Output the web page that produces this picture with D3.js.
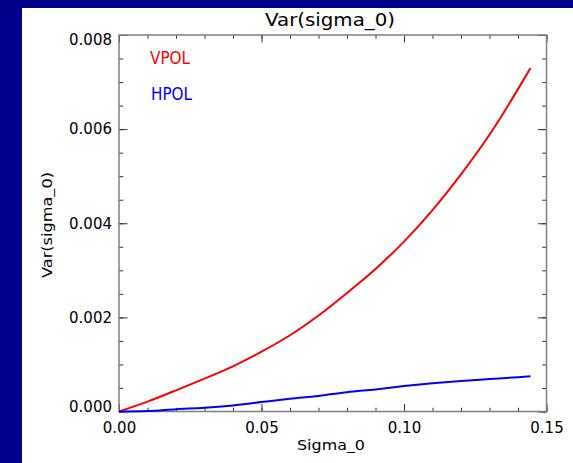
<!DOCTYPE html>
<html>
<head>
<meta charset="utf-8">
<script src="https://cdn.jsdelivr.net/npm/d3@7"></script>
<style>
  html, body { margin: 0; padding: 0; background: #00008b; }
  svg { display: block; }
  text { font-family: "DejaVu Sans", sans-serif; }
</style>
</head>
<body>
<svg id="chart" width="573" height="463"></svg>
<script>
// Sigma_0 sample points and variance of sigma_0 for each polarisation
const sigma0 = [0, 0.01, 0.02, 0.03, 0.04, 0.05, 0.06, 0.07, 0.08, 0.09, 0.10, 0.11, 0.12, 0.13, 0.14, 0.1444];
const vpol   = [0, 0.00021, 0.00045, 0.00070, 0.00096, 0.00127, 0.00162, 0.00204, 0.00252, 0.00303, 0.00361, 0.00428, 0.00504, 0.00588, 0.00685, 0.00730];
const hpol   = [0, 0.00001, 0.00005, 0.00008, 0.00013, 0.00020, 0.00027, 0.00033, 0.00041, 0.00047, 0.00054, 0.00060, 0.00065, 0.00069, 0.00073, 0.00075];

const seriesNames = ["VPOL", "HPOL"];
const seriesColors = ["#ff0000", "#0000ff"];

const xMajor = [0, 0.05, 0.10, 0.15];
const xMinor = d3.range(0, 0.1501, 0.01);
const yMajor = [0, 0.002, 0.004, 0.006, 0.008];
const yMinor = d3.range(0, 0.00801, 0.0005);

const svg = d3.select("#chart");
const W = 573, H = 463;

// navy page with a white panel
svg.append("rect").attr("width", W).attr("height", H).attr("fill", "#00008b");
svg.append("rect").attr("x", 22).attr("y", 8).attr("width", W - 22).attr("height", H - 8).attr("fill", "#ffffff");

const plotL = 119, plotR = 546.5, plotT = 35, plotB = 411.5;
const x = d3.scaleLinear().domain([0, 0.15]).range([plotL, plotR]);
const y = d3.scaleLinear().domain([0, 0.008]).range([plotB, plotT]);

const tickColor = "#333333";
const xLen = 7.5, yLen = 8.5;

function styleAxis(g) {
  g.select(".domain").remove();
  g.selectAll(".tick line").attr("stroke", tickColor).attr("stroke-width", 1);
  g.selectAll(".tick text").attr("fill", "#000").style("font-size", "15px");
}

// bottom axis: major ticks with labels, minor ticks without
svg.append("g").attr("transform", `translate(0,${plotB})`)
  .call(d3.axisBottom(x).tickValues(xMinor).tickSize(-xLen / 2).tickFormat(""))
  .call(styleAxis);
svg.append("g").attr("transform", `translate(0,${plotB})`)
  .call(d3.axisBottom(x).tickValues(xMajor).tickSize(-xLen).tickPadding(11).tickFormat(d3.format(".2f")))
  .call(styleAxis);

// top axis (ticks only)
svg.append("g").attr("transform", `translate(0,${plotT})`)
  .call(d3.axisTop(x).tickValues(xMinor).tickSize(-xLen / 2).tickFormat(""))
  .call(styleAxis);
svg.append("g").attr("transform", `translate(0,${plotT})`)
  .call(d3.axisTop(x).tickValues(xMajor).tickSize(-xLen).tickFormat(""))
  .call(styleAxis);

// left axis
svg.append("g").attr("transform", `translate(${plotL},0)`)
  .call(d3.axisLeft(y).tickValues(yMinor).tickSize(-yLen / 2).tickFormat(""))
  .call(styleAxis);
const yAx = svg.append("g").attr("transform", `translate(${plotL},0)`)
  .call(d3.axisLeft(y).tickValues(yMajor).tickSize(-yLen).tickPadding(7).tickFormat(d3.format(".3f")))
  .call(styleAxis);
// end labels sit inside the frame's vertical extent
yAx.selectAll(".tick text").attr("dy", d => d === 0 ? "0em" : (d === 0.008 ? "0.62em" : "0.32em"));

// right axis (ticks only)
svg.append("g").attr("transform", `translate(${plotR},0)`)
  .call(d3.axisRight(y).tickValues(yMinor).tickSize(-yLen / 2).tickFormat(""))
  .call(styleAxis);
svg.append("g").attr("transform", `translate(${plotR},0)`)
  .call(d3.axisRight(y).tickValues(yMajor).tickSize(-yLen).tickFormat(""))
  .call(styleAxis);

// plot frame
svg.append("rect")
  .attr("x", plotL).attr("y", plotT)
  .attr("width", plotR - plotL).attr("height", plotB - plotT)
  .attr("fill", "none").attr("stroke", "#808080").attr("stroke-width", 1.5);

// curves
const line = d3.line().x(d => x(d[0])).y(d => y(d[1])).curve(d3.curveMonotoneX);
[vpol, hpol].forEach((vals, i) => {
  svg.append("path")
    .datum(sigma0.map((s, k) => [s, vals[k]]))
    .attr("d", line)
    .attr("fill", "none")
    .attr("stroke", seriesColors[i])
    .attr("stroke-width", 2)
    .attr("stroke-linejoin", "round");
});

// legend labels
const legendPos = [[150, 63.5, 40], [151, 100, 41]];
seriesNames.forEach((name, i) => {
  svg.append("text")
    .attr("x", legendPos[i][0]).attr("y", legendPos[i][1])
    .attr("fill", seriesColors[i])
    .attr("textLength", legendPos[i][2]).attr("lengthAdjust", "spacingAndGlyphs")
    .style("font-size", "17px")
    .text(name);
});

// title and axis titles
svg.append("text")
  .attr("x", 330).attr("y", 26)
  .attr("text-anchor", "middle")
  .attr("textLength", 130).attr("lengthAdjust", "spacingAndGlyphs")
  .style("font-size", "17px")
  .text("Var(sigma_0)");

svg.append("text")
  .attr("x", 331).attr("y", 450)
  .attr("text-anchor", "middle")
  .attr("textLength", 68).attr("lengthAdjust", "spacingAndGlyphs")
  .style("font-size", "14px")
  .text("Sigma_0");

svg.append("text")
  .attr("transform", "translate(51.5,225) rotate(-90)")
  .attr("text-anchor", "middle")
  .attr("textLength", 106).attr("lengthAdjust", "spacingAndGlyphs")
  .style("font-size", "14px")
  .text("Var(sigma_0)");
</script>
</body>
</html>
